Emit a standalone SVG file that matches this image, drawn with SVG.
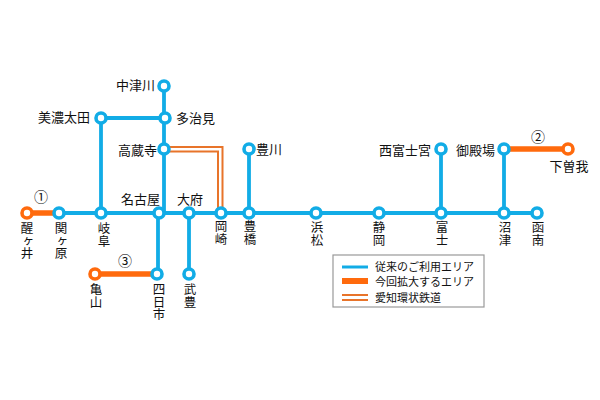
<svg xmlns="http://www.w3.org/2000/svg" width="600" height="400" viewBox="0 0 600 400">
<style>
text{font-family:"Noto Sans CJK JP","Liberation Sans",sans-serif;font-size:13px;fill:#111}
.e{text-anchor:end}.m{text-anchor:middle}
.v{writing-mode:vertical-rl;font-size:12.500px;text-anchor:start}
.b{fill:none;stroke:#12ace6;stroke-width:3.8}
.o{fill:none;stroke:#ff6a0d;stroke-width:5.5}
.d{fill:none;stroke:#e8742a;stroke-width:2}
.nb{fill:#fff;stroke:#12ace6;stroke-width:3.6}
.no{fill:#fff;stroke:#ff6a0d;stroke-width:3.6}
.n{font-size:14px}
.l{font-size:11px}
</style>
<rect width="600" height="400" fill="#fff"/>
<g id="connectors">
<path class="o" d="M27 213H59M95 274H157M504 149H568"/>
<path class="d" d="M164 147H222.500V213M164 151.500H218V213"/>
<path class="b" d="M59 213H537M101 213V118H164M164 86V213M158 213V274M189 213V274M249 149V213M441 149V213M504 149V213"/>
</g>
<g id="n-samegai"><circle class="no" cx="27" cy="213" r="5"/><text class="v" x="27" y="222">醒ヶ井</text></g>
<g id="n-sekigahara"><circle class="nb" cx="59" cy="213" r="5"/><text class="v" x="61" y="222">関ヶ原</text></g>
<g id="n-gifu"><circle class="nb" cx="101" cy="213" r="5"/><text class="v" x="104" y="222">岐阜</text></g>
<g id="n-nagoya"><circle class="nb" cx="159" cy="213" r="5"/><text class="e" x="160" y="204">名古屋</text></g>
<g id="n-obu"><circle class="nb" cx="189" cy="213" r="5"/><text class="m" x="190" y="204">大府</text></g>
<g id="n-okazaki"><circle class="nb" cx="221" cy="213" r="5"/><text class="v" x="221" y="220">岡崎</text></g>
<g id="n-toyohashi"><circle class="nb" cx="249" cy="213" r="5"/><text class="v" x="250" y="220">豊橋</text></g>
<g id="n-hamamatsu"><circle class="nb" cx="316" cy="213" r="5"/><text class="v" x="317" y="221">浜松</text></g>
<g id="n-shizuoka"><circle class="nb" cx="379" cy="213" r="5"/><text class="v" x="379" y="221">静岡</text></g>
<g id="n-fuji"><circle class="nb" cx="441" cy="213" r="5"/><text class="v" x="442" y="221">富士</text></g>
<g id="n-numazu"><circle class="nb" cx="504" cy="213" r="5"/><text class="v" x="505" y="221">沼津</text></g>
<g id="n-kannami"><circle class="nb" cx="537" cy="213" r="5"/><text class="v" x="538" y="221">函南</text></g>
<g id="n-nakatsugawa"><circle class="nb" cx="164" cy="86" r="5"/><text class="e" x="155" y="90">中津川</text></g>
<g id="n-tajimi"><circle class="nb" cx="165" cy="118" r="5"/><text x="176" y="123">多治見</text></g>
<g id="n-minoota"><circle class="nb" cx="101" cy="118" r="5"/><text class="e" x="90" y="122">美濃太田</text></g>
<g id="n-kozoji"><circle class="nb" cx="164" cy="149" r="5"/><text class="e" x="157" y="155">高蔵寺</text></g>
<g id="n-toyokawa"><circle class="nb" cx="249" cy="149" r="5"/><text x="256" y="154">豊川</text></g>
<g id="n-nishifujinomiya"><circle class="nb" cx="441" cy="149" r="5"/><text class="e" x="431" y="155">西富士宮</text></g>
<g id="n-gotemba"><circle class="nb" cx="504" cy="149" r="5"/><text class="e" x="495" y="155">御殿場</text></g>
<g id="n-shimosoga"><circle class="no" cx="568" cy="149" r="5"/><text class="m" x="569" y="171">下曽我</text></g>
<g id="n-kameyama"><circle class="no" cx="95" cy="274" r="5"/><text class="v" x="96" y="283">亀山</text></g>
<g id="n-yokkaichi"><circle class="nb" cx="157" cy="274" r="5"/><text class="v" x="159" y="283">四日市</text></g>
<g id="n-taketoyo"><circle class="nb" cx="189" cy="274" r="5"/><text class="v" x="190" y="283">武豊</text></g>
<g id="marks">
<text class="m n" x="41" y="202">①</text>
<text class="m n" x="125" y="266">③</text>
<text class="m n" x="538" y="142">②</text>
</g>
<g id="legend">
<rect x="333" y="255" width="151" height="52" fill="#fff" stroke="#999" stroke-width="1.2"/>
<path class="b" d="M342 267H368" style="stroke-width:3"/>
<path class="o" d="M342 281H368" style="stroke-width:6"/>
<path class="d" d="M342 295H368M342 300H368"/>
<text class="l" x="375" y="271">従来のご利用エリア</text>
<text class="l" x="375" y="286">今回拡大するエリア</text>
<text class="l" x="375" y="302">愛知環状鉄道</text>
</g>
</svg>
